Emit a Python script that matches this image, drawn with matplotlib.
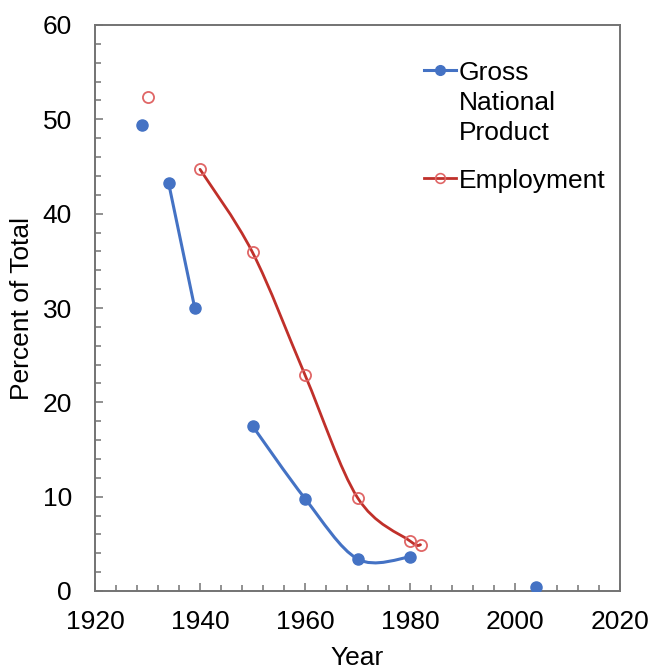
import numpy as np
import matplotlib
matplotlib.use("Agg")
import matplotlib.pyplot as plt
from matplotlib.path import Path
from matplotlib.patches import PathPatch
from matplotlib.lines import Line2D
from matplotlib.ticker import MultipleLocator

plt.rcParams['font.family'] = ['Liberation Sans', 'DejaVu Sans']

# ---- data ----
years = [1929, 1930, 1934, 1939, 1940, 1950, 1960, 1970, 1980, 1982, 2004]
gnp = [49.4, np.nan, 43.3, 30.0, np.nan, 17.5, 9.8, 3.4, 3.6, np.nan, 0.4]
employment = [np.nan, 52.4, np.nan, np.nan, 44.7, 35.9, 22.9, 9.9, 5.3, 4.9, np.nan]
series_labels = ["Gross\nNational\nProduct", "Employment"]
x_label = "Year"
y_label = "Percent of Total"
x_ticks = [1920, 1940, 1960, 1980, 2000, 2020]
y_ticks = [0, 10, 20, 30, 40, 50, 60]

BLUE = '#4472C4'
RED_LINE = '#C0302A'
RED_MARK = '#E06666'
FS = 19


def runs(xs, ys):
    out, cur = [], []
    for x, y in zip(xs, ys):
        if np.isnan(y):
            if cur:
                out.append(cur)
            cur = []
        else:
            cur.append((x, y))
    if cur:
        out.append(cur)
    return out


def smooth_path(pts):
    xs = [p[0] for p in pts]
    ys = [p[1] for p in pts]
    n = len(xs)
    verts = [(xs[0], ys[0])]
    codes = [Path.MOVETO]
    for i in range(n - 1):
        a = i - 1 if i > 0 else i
        d = i + 2 if i + 2 < n else i + 1
        c1 = (xs[i] + (xs[i + 1] - xs[a]) / 6.0, ys[i] + (ys[i + 1] - ys[a]) / 6.0)
        c2 = (xs[i + 1] - (xs[d] - xs[i]) / 6.0, ys[i + 1] - (ys[d] - ys[i]) / 6.0)
        verts += [c1, c2, (xs[i + 1], ys[i + 1])]
        codes += [Path.CURVE4] * 3
    return Path(verts, codes)


fig = plt.figure(figsize=(6.52, 6.69), dpi=100)
ax = fig.add_axes([95 / 652, 1 - 591 / 669, 525 / 652, 566 / 669])

for vals, col, lw in [(gnp, BLUE, 2.2), (employment, RED_LINE, 2.0)]:
    for seg in runs(years, vals):
        if len(seg) > 1:
            ax.add_patch(PathPatch(smooth_path(seg), facecolor='none',
                                   edgecolor=col, lw=lw, zorder=2,
                                   capstyle='round', joinstyle='round'))

ax.plot(years, gnp, linestyle='none', marker='o', markersize=8,
        markerfacecolor=BLUE, markeredgecolor=BLUE, zorder=3)
ax.plot(years, employment, linestyle='none', marker='o', markersize=8,
        markerfacecolor='none', markeredgecolor=RED_MARK, markeredgewidth=1.3, zorder=3)

ax.set_xlim(1920, 2020)
ax.set_ylim(0, 60)
ax.set_xticks(x_ticks)
ax.set_yticks(y_ticks)
ax.xaxis.set_minor_locator(MultipleLocator(4))
ax.yaxis.set_minor_locator(MultipleLocator(2))

for s in ax.spines.values():
    s.set_color('#737373')
    s.set_linewidth(1.4)

ax.tick_params(axis='both', which='both', direction='in', color='#737373',
               width=1.1, labelsize=FS, labelcolor='black')
ax.tick_params(axis='both', which='major', length=6)
ax.tick_params(axis='both', which='minor', length=4.5)
ax.tick_params(axis='x', which='both', pad=13.5)
ax.tick_params(axis='y', which='both', pad=16.5)

ax.set_xlabel(x_label, fontsize=FS, va='center')
ax.xaxis.set_label_coords(0.5, (591 - 658) / 566)
ax.set_ylabel(y_label, fontsize=FS, va='center')
ax.yaxis.set_label_coords((22 - 95) / 525, 0.5)

handles = [
    Line2D([], [], color=BLUE, lw=2.2, marker='o', markersize=7,
           markerfacecolor=BLUE, markeredgecolor=BLUE),
    Line2D([], [], color=RED_LINE, lw=2.0, marker='o', markersize=7,
           markerfacecolor='none', markeredgecolor=RED_MARK, markeredgewidth=1.2),
]
leg = ax.legend(handles, series_labels, loc='upper left',
                bbox_to_anchor=((424 - 95) / 525, (591 - 61) / 566),
                frameon=False, fontsize=FS, borderpad=0, borderaxespad=0,
                handlelength=1.2, handletextpad=0.12, labelspacing=0.9)
for t in leg.get_texts():
    t.set_linespacing(1.32)
# align handles with the first text line
try:
    for hp in leg._legend_handle_box.get_children()[0].get_children():
        hp.align = 'top'
except Exception:
    pass

fig.savefig('out.png', dpi=100)
